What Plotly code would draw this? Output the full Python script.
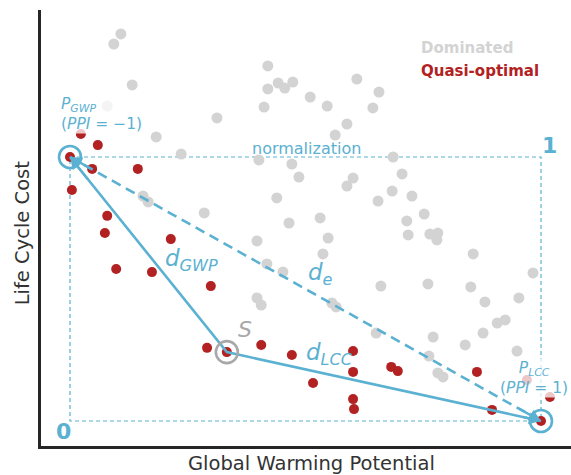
import plotly.graph_objects as go

# Normalised objective space: x = GWP, y = LCC (0..1 between the two anchor points)
dominated_gwp = [0.108, 0.093, 0.132, 0.079, 0.420, 0.420, 0.442, 0.456, 0.473, 0.412,
                 0.510, 0.546, 0.609, 0.656, 0.643, 0.588, 0.563, 0.312, 0.183, 0.236,
                 0.401, 0.471, 0.486, 0.601, 0.588, 0.686, 0.705, 0.684, 0.654, 0.726,
                 0.439, 0.155, 0.166, 0.285, 0.531, 0.465, 0.752, 0.715, 0.718, 0.764,
                 0.781, 0.779, 0.548, 0.397, 0.537, 0.418, 0.452, 0.856, 0.983, 0.660,
                 0.760, 0.851, 0.881, 0.953, 0.907, 0.924, 0.877, 0.771, 0.839, 0.762,
                 0.781, 0.792, 0.397, 0.406, 0.556, 0.565, 0.650, 0.949]
dominated_lcc = [1.466, 1.428, 1.273, 1.193, 1.345, 1.258, 1.280, 1.261, 1.284, 1.189,
                 1.227, 1.193, 1.295, 1.246, 1.186, 1.125, 1.083, 1.148, 1.076, 1.011,
                 0.989, 0.973, 0.924, 0.920, 0.890, 1.000, 0.936, 0.871, 0.833, 0.852,
                 0.845, 0.852, 0.830, 0.788, 0.769, 0.750, 0.784, 0.758, 0.705, 0.708,
                 0.712, 0.686, 0.693, 0.682, 0.633, 0.595, 0.564, 0.633, 0.561, 0.511,
                 0.519, 0.508, 0.451, 0.466, 0.371, 0.383, 0.333, 0.318, 0.288, 0.246,
                 0.182, 0.167, 0.466, 0.439, 0.447, 0.432, 0.333, 0.265]

quasi_gwp = [0.000, 0.059, 0.047, 0.144, 0.004, 0.079, 0.074, 0.214, 0.098, 0.174,
             0.299, 0.291, 0.333, 0.406, 0.471, 0.601, 0.601, 0.516, 0.601, 0.603,
             0.682, 0.696, 0.864, 0.896, 1.000, 0.023, 0.970, 1.019]
quasi_lcc = [1.000, 1.045, 0.955, 0.955, 0.875, 0.777, 0.712, 0.689, 0.576, 0.564,
             0.511, 0.277, 0.261, 0.288, 0.250, 0.265, 0.186, 0.144, 0.083, 0.045,
             0.205, 0.189, 0.186, 0.042, 0.000, 1.087, 0.155, 0.091]

# Anchor points and the selected solution S
p_gwp = (0.0, 1.0)
p_lcc = (1.0, 0.0)
s_pt = (0.333, 0.261)

BLUE = "#5bb1d1"
GREY = "#d3d3d3"
RED = "#b22222"
SGREY = "#a8a8a8"
FONT = "DejaVu Sans"

fig = go.Figure()

# normalisation box
box_x = [p_gwp[0], p_lcc[0], p_lcc[0], p_gwp[0], p_gwp[0]]
box_y = [p_gwp[1], p_gwp[1], p_lcc[1], p_lcc[1], p_gwp[1]]
fig.add_trace(go.Scatter(x=box_x, y=box_y, mode="lines",
                         line=dict(color=BLUE, width=1.2, dash="4px,3px"),
                         hoverinfo="skip", showlegend=False))

fig.add_trace(go.Scatter(x=dominated_gwp, y=dominated_lcc, mode="markers",
                         marker=dict(size=11, color=GREY), name="Dominated",
                         showlegend=False))
fig.add_trace(go.Scatter(x=quasi_gwp, y=quasi_lcc, mode="markers",
                         marker=dict(size=10, color=RED), name="Quasi-optimal",
                         showlegend=False))

# distances
fig.add_trace(go.Scatter(x=[p_gwp[0], p_lcc[0]], y=[p_gwp[1], p_lcc[1]], mode="lines",
                         line=dict(color=BLUE, width=2.6, dash="10px,6px"),
                         hoverinfo="skip", showlegend=False))
fig.add_trace(go.Scatter(x=[p_gwp[0], s_pt[0], p_lcc[0]], y=[p_gwp[1], s_pt[1], p_lcc[1]],
                         mode="lines", line=dict(color=BLUE, width=2.6),
                         hoverinfo="skip", showlegend=False))

# highlighted points
fig.add_trace(go.Scatter(x=[p_gwp[0], p_lcc[0]], y=[p_gwp[1], p_lcc[1]], mode="markers",
                         marker=dict(size=22, color="rgba(0,0,0,0)",
                                     line=dict(color=BLUE, width=2.6)),
                         hoverinfo="skip", showlegend=False))
fig.add_trace(go.Scatter(x=[s_pt[0]], y=[s_pt[1]], mode="markers",
                         marker=dict(size=22, color="rgba(0,0,0,0)",
                                     line=dict(color=SGREY, width=2.6)),
                         hoverinfo="skip", showlegend=False))

# arrow heads at the anchor points
def head(end, start, t):
    tail = (end[0] + t * (start[0] - end[0]), end[1] + t * (start[1] - end[1]))
    fig.add_annotation(x=end[0], y=end[1], ax=tail[0], ay=tail[1], xref="x", yref="y",
                       axref="x", ayref="y", text="", showarrow=True, arrowhead=2,
                       arrowsize=1, arrowwidth=2.4, arrowcolor=BLUE, standoff=0)

head(p_gwp, s_pt, 0.12)
head(p_gwp, p_lcc, 0.05)
head(p_lcc, s_pt, 0.06)
head(p_lcc, p_gwp, 0.05)

def label(x, y, text, size, color, xanchor="left", bold=False, bg=None, align="left"):
    fig.add_annotation(x=x, y=y, xref="x", yref="y", text=text, showarrow=False,
                       xanchor=xanchor, yanchor="middle", align=align,
                       font=dict(family=FONT, size=size, color=color,
                                 weight="bold" if bold else "normal"),
                       bgcolor=bg if bg else "rgba(0,0,0,0)", borderpad=0)

label(-0.021, 1.163, "<i>P</i><sub><i>GWP</i></sub><br>(<i>PPI</i> = −1)", 15.5, BLUE,
      bg="rgba(255,255,255,0.75)")
label(1.060, 0.163, "<i>P</i><sub><i>LCC</i></sub><br>(<i>PPI</i> = 1)", 15.5, BLUE,
      xanchor="right", bg="rgba(255,255,255,0.75)", align="center")
label(0.503, 1.032, "normalization", 16, BLUE, xanchor="center")
label(1.019, 1.045, "1", 22, BLUE, xanchor="center", bold=True)
label(-0.013, -0.040, "0", 22, BLUE, xanchor="center", bold=True)
label(0.200, 0.610, "<i>d</i><sub><i>GWP</i></sub>", 23, BLUE)
label(0.503, 0.555, "<i>d</i><sub><i>e</i></sub>", 23, BLUE)
label(0.499, 0.255, "<i>d</i><sub><i>LCC</i></sub>", 23, BLUE)
label(0.372, 0.345, "<i>S</i>", 22, SGREY, xanchor="center")

# legend as coloured text
label(0.743, 1.413, "Dominated", 15, GREY, bold=True)
label(0.743, 1.326, "Quasi-optimal", 15, RED, bold=True)

# axis titles
fig.add_annotation(x=0.51, y=-0.039, xref="paper", yref="paper", text="Global Warming Potential",
                   showarrow=False, xanchor="center", yanchor="middle",
                   font=dict(family=FONT, size=19.5, color="#333333"))
fig.add_annotation(x=-0.036, y=0.49, xref="paper", yref="paper", text="Life Cycle Cost",
                   showarrow=False, xanchor="center", yanchor="middle", textangle=-90,
                   font=dict(family=FONT, size=19.5, color="#333333"))

axis_common = dict(showgrid=False, zeroline=False, showticklabels=False, ticks="",
                   showline=True, linewidth=3, linecolor="#262626", mirror=False)
fig.update_xaxes(range=[-0.0616, 1.0637], **axis_common)
fig.update_yaxes(range=[-0.0947, 1.5568], **axis_common)

fig.update_layout(width=571, height=475, margin=dict(l=41, r=0, t=10, b=29),
                  plot_bgcolor="white", paper_bgcolor="white", showlegend=False,
                  font=dict(family=FONT))

fig.write_html("out.html")
